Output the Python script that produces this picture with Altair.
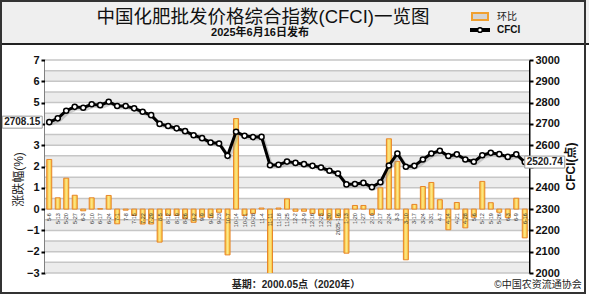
import altair as alt
import pandas as pd

dates = ["5-6", "5-13", "5-20", "5-27", "6-3", "6-10", "6-17", "6-24", "7-1", "7-8",
         "7-15", "7-22", "7-29", "8-5", "8-12", "8-19", "8-26", "9-2", "9-9", "9-16",
         "9-23", "10-7", "10-14", "10-21", "10-28", "11-4", "11-11", "11-18", "11-25", "12-2",
         "12-9", "12-16", "12-23", "12-30", "2025-1-6", "1-13", "1-20", "1-27", "2-10", "2-17",
         "2-24", "3-3", "3-10", "3-17", "3-24", "3-31", "4-7", "4-14", "4-21", "4-28",
         "5-6 ", "5-12", "5-19", "5-26", "6-3 ", "6-9", "6-16"]
pct = [2.33, 0.53, 1.45, 0.65, -0.08, 0.53, 0.02, 0.64, -0.69, -0.05,
       -0.30, -0.70, -0.70, -1.55, -0.30, -0.30, -0.45, -0.62, -0.38, -0.40,
       -0.15, -2.15, 4.25, -0.30, -0.20, 0.05, -5.0, 0.05, 0.48, -0.10,
       -0.10, -0.20, -0.30, -0.50, -0.40, -2.07, 0.17, 0.17, -0.25, 1.00,
       3.30, 2.24, -2.38, 0.22, 1.06, 1.25, 0.44, -0.97, 0.31, -0.88,
       -0.38, 1.30, 0.30, -0.15, -0.40, 0.51, -1.35]
cfci = [2708.15, 2726, 2762, 2780, 2776, 2792, 2788, 2804, 2784, 2784,
        2773, 2757, 2741, 2700, 2690, 2679, 2666, 2647, 2633, 2613,
        2608, 2550, 2663, 2644, 2638, 2639, 2506, 2508, 2523, 2517,
        2511, 2503, 2495, 2480, 2467, 2416, 2418, 2423, 2403, 2426,
        2505, 2561, 2499, 2503, 2533, 2561, 2574, 2549, 2557, 2533,
        2522, 2553, 2564, 2558, 2545, 2557, 2520.74]
left_ticks = list(range(-3, 8))
right_ticks = list(range(2000, 3001, 100))

W, H = 484, 213
LAT = "Liberation Sans"
MIX = "Liberation Sans, Noto Sans CJK SC"

df = pd.DataFrame({"date": dates, "pct": pct, "cfci": cfci, "z": [0] * len(dates)})
df["lbl"] = df["date"].str.strip()

ysl = alt.Scale(domain=[-3, 7], nice=False, zero=False)
ysr = alt.Scale(domain=[2000, 3000], nice=False, zero=False)
xsc = alt.Scale(domain=dates, paddingInner=0, paddingOuter=0)

x_none = alt.X("date:N", sort=dates, scale=xsc, axis=None)
x_axis = alt.X("date:N", sort=dates, scale=xsc, axis=alt.Axis(
    orient="bottom", offset=-64, labels=False, title=None, grid=False,
    domainColor="black", domainWidth=2, ticks=True, tickColor="black",
    tickWidth=1.5, tickSize=4, values=dates[0::2], bandPosition=0))

# the labels "4" and "2500" sit under the value boxes in the reference
left_axis = alt.Axis(orient="left", values=left_ticks, labelFont=LAT, labelFontWeight="bold",
                     labelExpr="datum.value == 4 ? '' : datum.label",
                     labelFontSize=11, labelColor="#111", labelPadding=2,
                     domainColor="black", domainWidth=2, tickColor="black",
                     tickWidth=2, tickSize=4, grid=False,
                     title="涨跌幅(%)", titleFont=MIX, titleFontSize=12,
                     titleFontWeight="normal", titleColor="#222", titleAngle=270,
                     titleX=-27, titleY=119, titleAlign="center", titleBaseline="middle")
right_axis = alt.Axis(orient="right", values=right_ticks, format="d", labelFont=LAT,
                      labelExpr="datum.value == 2500 ? '' : datum.label",
                      labelFontWeight="bold", labelFontSize=11, labelColor="#111",
                      labelPadding=2, domainColor="black", domainWidth=2,
                      tickColor="black", tickWidth=2, tickSize=4, grid=False,
                      title="CFCI(点)", titleFont=MIX, titleFontSize=12,
                      titleFontWeight="bold", titleColor="#111", titleAngle=270,
                      titleX=41, titleY=106, titleAlign="center", titleBaseline="middle")

# background bands and grid
lo = [-3 + 0.5 * i for i in range(20)]
bdf = pd.DataFrame({"lo": lo, "hi": [v + 0.5 for v in lo],
                    "fill": ["#ececec" if float(v).is_integer() else "#ffffff" for v in lo]})
bands = alt.Chart(bdf).mark_rect().encode(
    y=alt.Y("lo:Q", scale=ysl, axis=None), y2="hi:Q",
    x=alt.value(0), x2=alt.value(W),
    color=alt.Color("fill:N", scale=None))
gdf = pd.DataFrame({"lv": [-3 + 0.5 * i for i in range(21)]})
grid = alt.Chart(gdf).mark_rule(color="#c6c6c6", strokeWidth=1.5).encode(
    y=alt.Y("lv:Q", scale=ysl, axis=None), x=alt.value(0), x2=alt.value(W))

grad = alt.Gradient(gradient="linear", x1=0, x2=1, y1=0, y2=0, stops=[
    alt.GradientStop(color="#f4b52e", offset=0),
    alt.GradientStop(color="#fde98a", offset=0.5),
    alt.GradientStop(color="#f4c02e", offset=1)])
bars = alt.Chart(df).mark_bar(size=5, fill=grad, stroke="#e8862a", strokeWidth=1,
                              clip=True).encode(
    x=x_axis, y=alt.Y("pct:Q", scale=ysl, axis=left_axis), y2=alt.Y2(datum=0))
labels = alt.Chart(df).mark_text(angle=270, align="right", baseline="middle", dx=-4,
                                 font=LAT, fontSize=5.5, color="#333").encode(
    x=x_none, y=alt.Y("z:Q", scale=ysl, axis=None), text="lbl:N")

# CFCI line
shadow = alt.Chart(df).mark_line(color="#999", strokeWidth=3, opacity=0.45,
                                 xOffset=2, yOffset=2).encode(
    x=x_none, y=alt.Y("cfci:Q", scale=ysr, axis=None))
line = alt.Chart(df).mark_line(color="black", strokeWidth=3).encode(
    x=x_none, y=alt.Y("cfci:Q", scale=ysr, axis=right_axis))
pts = alt.Chart(df).mark_point(filled=True, fill="white", stroke="black",
                               strokeWidth=1.5, size=26, opacity=1).encode(
    x=x_none, y=alt.Y("cfci:Q", scale=ysr, axis=None))

box_path = "M-1,-0.3L1,-0.3L1,0.3L-1,0.3Z"
first = df.iloc[[0]].copy()
last = df.iloc[[-1]].copy()
first["t"] = ["2708.15"]
last["t"] = ["2520.74"]
box1 = alt.Chart(first).mark_point(shape=box_path, size=1600, filled=True, fill="white",
                                   stroke="#999", strokeWidth=1, opacity=1,
                                   xOffset=-27).encode(
    x=x_none, y=alt.Y("cfci:Q", scale=ysr, axis=None))
txt1 = alt.Chart(first).mark_text(font=LAT, fontSize=10, fontWeight="bold",
                                  color="#222", xOffset=-27).encode(
    x=x_none, y=alt.Y("cfci:Q", scale=ysr, axis=None), text="t:N")
box2 = alt.Chart(last).mark_point(shape=box_path, size=1600, filled=True, fill="white",
                                  stroke="#999", strokeWidth=1, opacity=1,
                                  xOffset=20).encode(
    x=x_none, y=alt.Y("cfci:Q", scale=ysr, axis=None))
txt2 = alt.Chart(last).mark_text(font=LAT, fontSize=10, fontWeight="bold",
                                 color="#222", xOffset=20).encode(
    x=x_none, y=alt.Y("cfci:Q", scale=ysr, axis=None), text="t:N")

# decorations: header, titles, legend, footer
one = pd.DataFrame({"a": [0]})
header = alt.Chart(one).mark_rect(fill="#efefef").encode(
    x=alt.value(-45), x2=alt.value(544), y=alt.value(-60), y2=alt.value(-16))
header_line = alt.Chart(one).mark_rule(color="#222", strokeWidth=2).encode(
    x=alt.value(-45), x2=alt.value(544), y=alt.value(-16))
frame = alt.Chart(one).mark_rect(filled=False, stroke="#333",
                                 strokeWidth=2).encode(
    x=alt.value(-44), x2=alt.value(540), y=alt.value(-59), y2=alt.value(233))


def txt(t, x, y, size, weight="normal", font=MIX, align="center", color="#111"):
    return alt.Chart(pd.DataFrame({"t": [t]})).mark_text(
        font=font, fontSize=size, fontWeight=weight, align=align,
        baseline="middle", color=color).encode(
        text="t:N", x=alt.value(x), y=alt.value(y))


title = txt("中国化肥批发价格综合指数(CFCI)一览图", 218, -43, 18.5)
subtitle = txt("2025年6月16日发布", 215, -27.5, 11, "bold")
leg_box = alt.Chart(one).mark_rect(fill="#d4d4d4", stroke="#f0a030", strokeWidth=2).encode(
    x=alt.value(427), x2=alt.value(443), y=alt.value(-47), y2=alt.value(-40))
leg_line = alt.Chart(one).mark_rule(color="black", strokeWidth=4).encode(
    x=alt.value(425), x2=alt.value(445), y=alt.value(-30))
leg_pt = alt.Chart(one).mark_point(filled=True, fill="white", stroke="black",
                                   strokeWidth=1.5, size=22, opacity=1).encode(
    x=alt.value(435), y=alt.value(-30))
leg_t1 = txt("环比", 452, -43.5, 10, align="left", color="#222")
leg_t2 = txt("CFCI", 452, -30, 10, "bold", font=LAT, align="left")
foot1 = txt("基期：2000.05点（2020年）", 251, 225, 10, "bold", color="#222")
foot2 = txt("©中国农资流通协会", 493, 225, 10, color="#222")

chart = alt.layer(
    header, header_line, bands, grid, bars, labels,
    shadow, line, pts, box1, txt1, box2, txt2,
    title, subtitle, leg_box, leg_line, leg_pt, leg_t1, leg_t2, foot1, foot2, frame
).resolve_scale(y="independent").properties(
    width=W, height=H,
    autosize=alt.AutoSizeParams(type="none"),
    padding={"left": 45, "top": 60, "right": 60, "bottom": 22},
    background="white"
).configure_view(strokeWidth=0)

chart.save("out.html", embed_options={"renderer": "svg", "actions": False})
